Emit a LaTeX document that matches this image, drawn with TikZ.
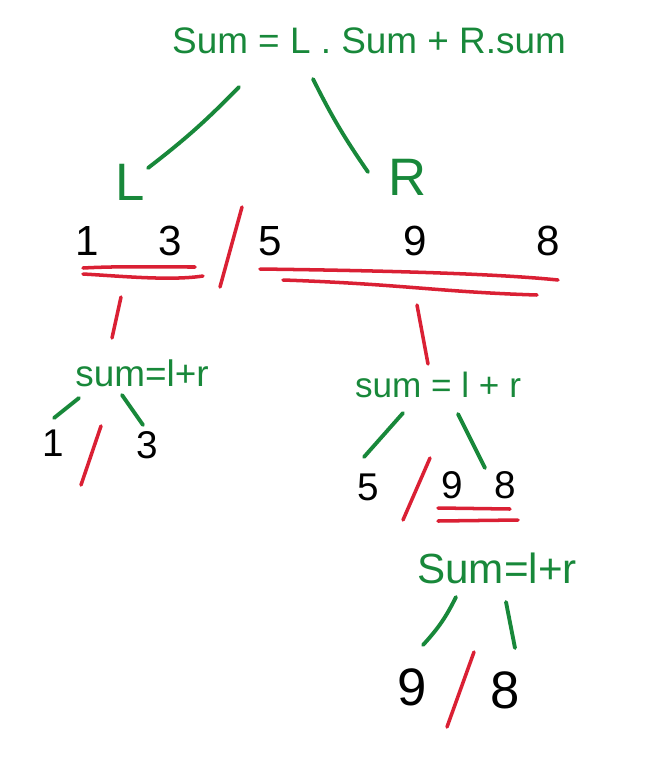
\documentclass[tikz,border=0pt]{standalone}
\usepackage{fontspec}
\setmainfont{Liberation Sans}
\usetikzlibrary{calc}
\definecolor{penGreen}{RGB}{24,136,58}
\definecolor{penRed}{RGB}{218,32,52}
\tikzset{
  gtext/.style={text=penGreen, inner sep=1pt},
  num/.style={inner sep=1pt, font=\fontsize{24}{24}\selectfont},
  gline/.style={draw=penGreen, line width=2.2pt, line cap=round},
  rline/.style={draw=penRed, line width=2pt, line cap=round},
}

\begin{document}
\begin{tikzpicture}[x=0.02cm,y=-0.02cm]
\useasboundingbox (0,0) rectangle (651,775);
% level 0
\node[gtext,font=\fontsize{21}{21}\selectfont] (sumTop) at (369,41) {Sum = L . Sum + R.sum};
\node[gtext,font=\fontsize{30}{30}\selectfont] (L) at (130,182) {L};
\node[gtext,font=\fontsize{30}{30}\selectfont] (R) at (408,177) {R};
\draw[gline] ($(sumTop)+(-130,46)$) to[bend left=4] ($(L)+(18,-14)$);
\draw[gline] ($(sumTop)+(-56,38)$) to[bend right=4] ($(R)+(-40,-5)$);
% level 1 : the array
\foreach \x/\d/\nm in {87/1/a1,170/3/a3,270/5/a5,415/9/a9,548/8/a8}
  { \node[num] (\nm) at (\x,241) {\d}; }
\draw[rline] (242,207) -- (220,287);
\coordinate (bar13) at (140,272);
\coordinate (bar598) at (410,278);
\draw[rline] ($(bar13)+(-57,-4)$) .. controls (120,266) and (160,267) .. ($(bar13)+(55,-5)$);
\draw[rline] ($(bar13)+(-57,2)$) .. controls (120,276) and (170,281) .. ($(bar13)+(63,4)$);
\draw[rline] ($(bar598)+(-150,-9)$) .. controls (330,270) and (480,272) .. ($(bar598)+(148,2)$);
\draw[rline] ($(bar598)+(-127,2)$) .. controls (400,284) and (440,292) .. ($(bar598)+(127,17)$);
% level 2
\node[gtext,font=\fontsize{21}{21}\selectfont] (sumL) at (142,373) {sum=l+r};
\node[gtext,font=\fontsize{20}{20}\selectfont] (sumR) at (438,385) {sum = l + r};
\draw[rline] ($(bar13)+(-19,25)$) -- ($(sumL)+(-30,-35)$);
\draw[rline] ($(bar598)+(7,27)$) -- ($(sumR)+(-10,-21)$);
\node[num,font=\fontsize{22}{22}\selectfont] (b1) at (53,443) {1};
\node[num,font=\fontsize{22}{22}\selectfont] (b3) at (147,445) {3};
\draw[gline] ($(sumL)+(-63,25)$) -- ($(b1)+(1,-25)$);
\draw[gline] ($(sumL)+(-20,22)$) -- ($(b3)+(-4,-20)$);
\draw[rline] (101,426) -- (81,485);
\node[num,font=\fontsize{22}{22}\selectfont] (c5) at (368,487) {5};
\node[num,font=\fontsize{22}{22}\selectfont] (c9) at (452,485) {9};
\node[num,font=\fontsize{22}{22}\selectfont] (c8) at (505,485) {8};
\draw[gline] ($(sumR)+(-35,28)$) -- ($(c5)+(-4,-30)$);
\draw[gline] ($(sumR)+(20,29)$) -- ($(c8)+(-20,-17)$);
\draw[rline] (430,458) -- (403,520);
\coordinate (bar98) at (478,514);
\draw[rline] ($(bar98)+(-40,-6)$) -- ($(bar98)+(32,-5)$);
\draw[rline] ($(bar98)+(-40,7)$) -- ($(bar98)+(40,6)$);
% level 3
\node[gtext,font=\fontsize{24}{24}\selectfont] (sumB) at (497,568) {Sum=l+r};
\node[num,font=\fontsize{30}{30}\selectfont] (d9) at (412,687) {9};
\node[num,font=\fontsize{30}{30}\selectfont] (d8) at (505,690) {8};
\draw[gline] ($(sumB)+(-41,29)$) to[bend left=8] ($(d9)+(11,-42)$);
\draw[gline] ($(sumB)+(9,34)$) -- ($(d8)+(10,-42)$);
\draw[rline] (474,652) -- (447,727);
\end{tikzpicture}
\end{document}
